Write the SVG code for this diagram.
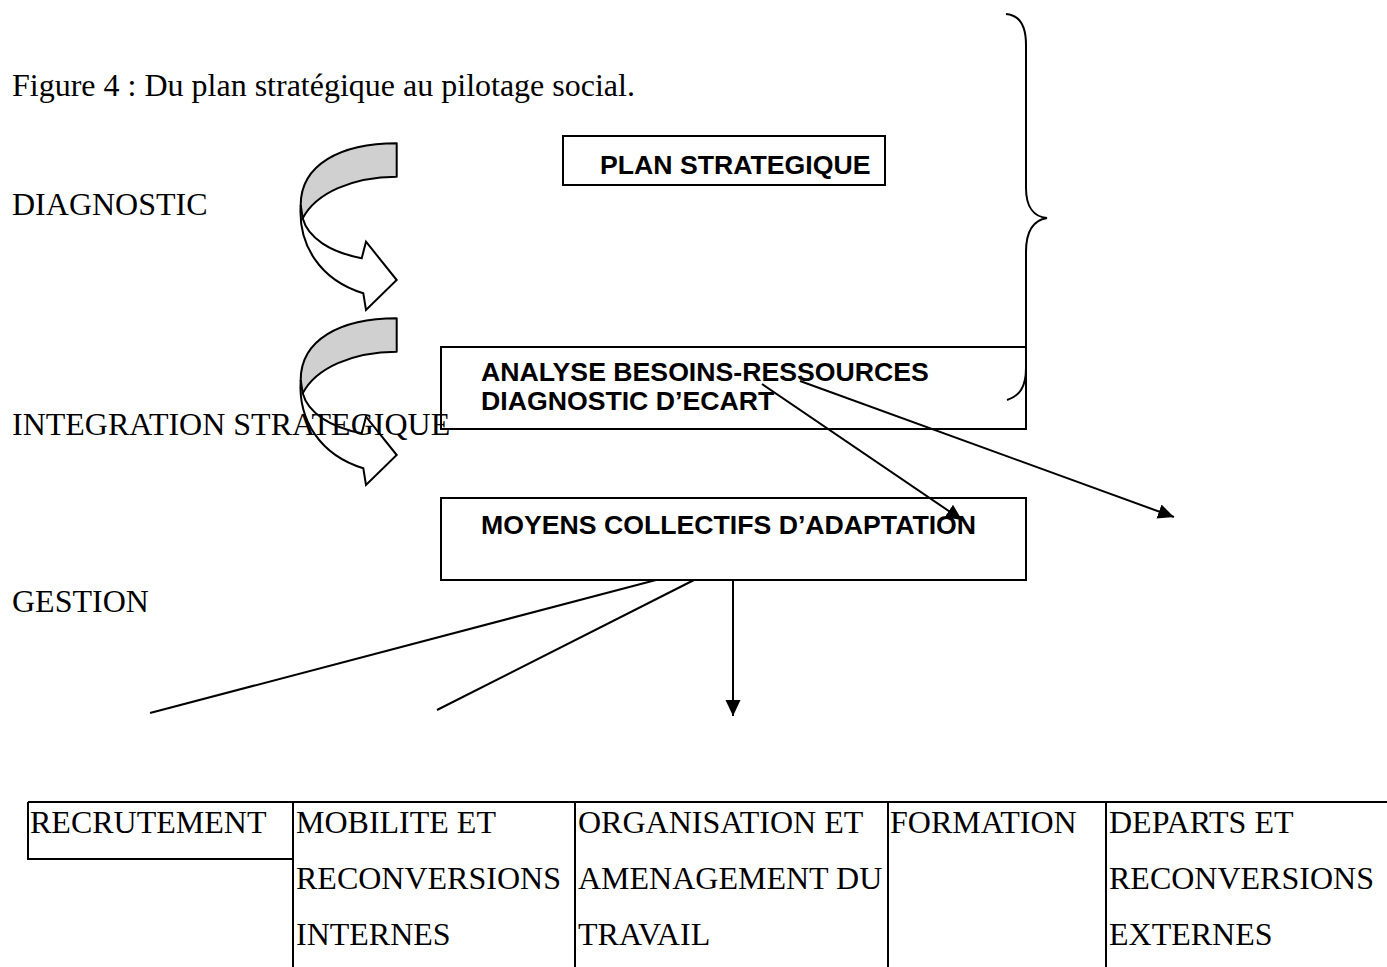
<svg xmlns="http://www.w3.org/2000/svg" width="1387" height="967" viewBox="0 0 1387 967">
<style>
.t{font-family:"Liberation Serif","Times New Roman",serif;font-size:32px;fill:#000}
.b{font-family:"Liberation Sans",Arial,sans-serif;font-size:26.67px;font-weight:bold;fill:#000}
.box{fill:none;stroke:#000;stroke-width:2}
.ln{fill:none;stroke:#000;stroke-width:2}
.gray{fill:#d0d0d0;stroke:#000;stroke-width:2;stroke-linejoin:round}
.wht{fill:none;stroke:#000;stroke-width:2;stroke-linejoin:miter}
</style>
<defs>
<marker id="ah" markerUnits="userSpaceOnUse" markerWidth="17" markerHeight="17" viewBox="0 0 17 17" refX="16" refY="8.5" orient="auto">
<path d="M0,1 L16,8.5 L0,16 Z" fill="#000"/>
</marker>
<g id="curvedArrow">
<path class="gray" d="M396.7,143.3 C340,143.3 300.7,165 300.7,205 L302.7,218.3 C316,193 352,177 396.7,176.7 Z"/>
<path class="wht" d="M300.7,205 C298,245 320,280 363.3,293.3 L366,310 L396.7,280 L366,241.7 L361.7,258.3 C330,252 308,238 302.7,218.3"/>
</g>
</defs>
<rect width="1387" height="967" fill="#fff"/>

<g id="title"><text class="t" x="12" y="96">Figure 4 : Du plan stratégique au pilotage social.</text></g>

<g id="arrows-left">
<use href="#curvedArrow"/>
<use href="#curvedArrow" transform="translate(0,175)"/>
</g>

<g id="label-diagnostic"><text class="t" x="12" y="215">DIAGNOSTIC</text></g>
<g id="label-integration"><text class="t" x="12" y="435">INTEGRATION STRATEGIQUE</text></g>
<g id="label-gestion"><text class="t" x="12" y="612">GESTION</text></g>

<g id="node-plan">
<rect class="box" x="563" y="136" width="322" height="49"/>
<text class="b" x="600" y="174">PLAN STRATEGIQUE</text>
</g>

<g id="node-analyse">
<rect class="box" x="441" y="347" width="585" height="82"/>
<text class="b" x="481" y="381">ANALYSE BESOINS-RESSOURCES</text>
<text class="b" x="481" y="410">DIAGNOSTIC D’ECART</text>
</g>

<g id="node-moyens">
<rect class="box" x="441" y="498" width="585" height="82"/>
<text class="b" x="481" y="534">MOYENS COLLECTIFS D’ADAPTATION</text>
</g>

<g id="brace">
<path class="ln" d="M1006,14 C1019,15 1026,25 1026,45 L1026,188 C1026,207 1034,217 1047,218 C1034,220 1026,230 1026,252 L1026,368 C1026,388 1019,396 1007,400"/>
</g>

<g id="connectors">
<line class="ln" x1="762" y1="384" x2="962" y2="520" marker-end="url(#ah)"/>
<line class="ln" x1="800" y1="381" x2="1174" y2="517" marker-end="url(#ah)"/>
<line class="ln" x1="656" y1="580" x2="150" y2="713"/>
<line class="ln" x1="694" y1="580" x2="437" y2="710"/>
<line class="ln" x1="733" y1="580" x2="733" y2="716" marker-end="url(#ah)"/>
</g>

<g id="table">
<path class="ln" d="M28,802 H1387 M28,802 V859 H293 M293,802 V967 M575,802 V967 M888,802 V967 M1106,802 V967"/>
</g>
<g id="cell-recrutement"><text class="t" x="30" y="833">RECRUTEMENT</text></g>
<g id="cell-mobilite">
<text class="t" x="296" y="833">MOBILITE ET</text>
<text class="t" x="296" y="889">RECONVERSIONS</text>
<text class="t" x="296" y="945">INTERNES</text>
</g>
<g id="cell-organisation">
<text class="t" x="578" y="833">ORGANISATION ET</text>
<text class="t" x="578" y="889">AMENAGEMENT DU</text>
<text class="t" x="578" y="945">TRAVAIL</text>
</g>
<g id="cell-formation"><text class="t" x="890" y="833">FORMATION</text></g>
<g id="cell-departs">
<text class="t" x="1109" y="833">DEPARTS ET</text>
<text class="t" x="1109" y="889">RECONVERSIONS</text>
<text class="t" x="1109" y="945">EXTERNES</text>
</g>
</svg>
